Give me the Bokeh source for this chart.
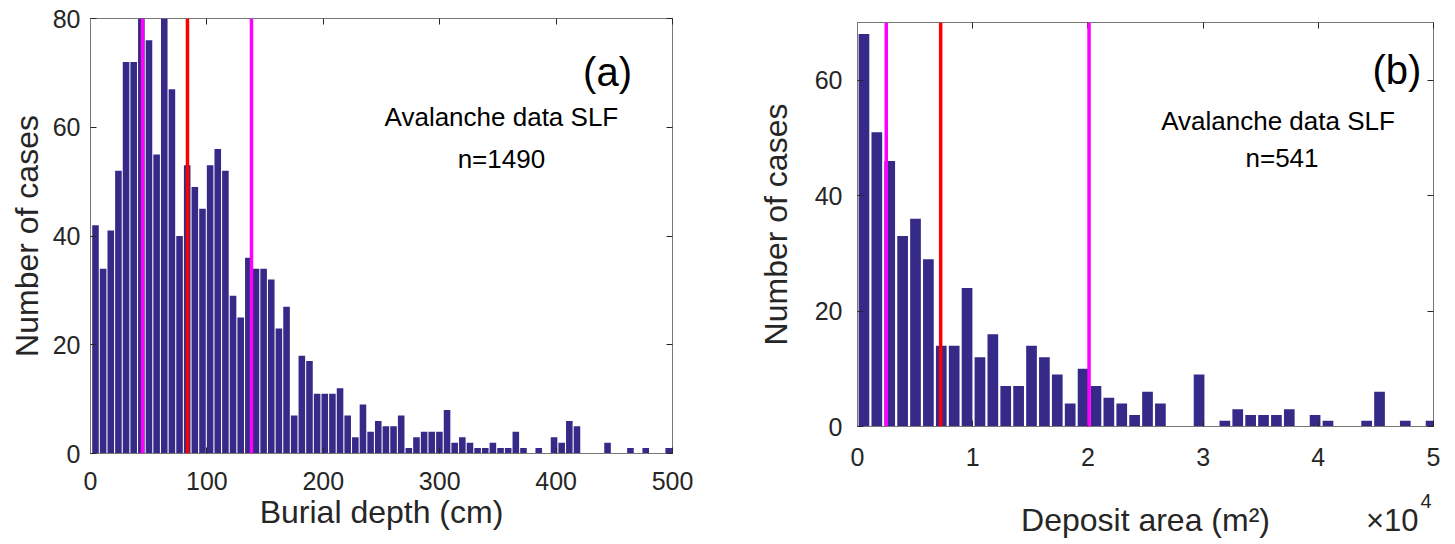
import numpy as np
from bokeh.plotting import figure
from bokeh.layouts import row
from bokeh.models import Span, Label, FixedTicker, LinearAxis, Range1d, Title
from bokeh.embed import file_html
from bokeh.resources import INLINE

# ---------------- data ----------------
# (a) burial depth histogram, 76 bins between min and max depth (cm)
depth_min, depth_max = 1.0, 500.0
depth_counts = [42, 34, 41, 52, 72, 72, 97, 76, 55, 97,
                67, 40, 53, 49, 45, 53, 56, 52, 29, 25,
                36, 34, 34, 32, 23, 27, 7, 18, 17, 11,
                11, 11, 12, 7, 3, 9, 4, 6, 5, 5,
                7, 1, 3, 4, 4, 4, 8, 2, 3, 2,
                1, 1, 2, 1, 1, 4, 1, 0, 1, 0,
                3, 2, 6, 5, 0, 0, 0, 2, 0, 0,
                1, 0, 1, 0, 0, 1]
depth_lines_magenta = [44.7, 138.3]
depth_lines_red = [83.3]
depth_xticks = [0, 100, 200, 300, 400, 500]
depth_yticks = [0, 20, 40, 60, 80]

# (b) deposit area histogram, 45 bins (units of 10^4 m^2)
area_min, area_max = 0.0, 5.035
area_counts = [68, 51, 46, 33, 36, 29, 14, 14, 24, 12,
               16, 7, 7, 14, 12, 9, 4, 10, 7, 5,
               4, 2, 6, 4, 0, 0, 9, 0, 1, 3,
               2, 2, 2, 3, 0, 2, 1, 0, 0, 1,
               6, 0, 1, 0, 1]
area_lines_magenta = [0.250, 2.010]
area_lines_red = [0.722]
area_xticks = [0, 1, 2, 3, 4, 5]
area_yticks = [0, 20, 40, 60]

# ---------------- style ----------------
FONT = "Liberation Sans"
TXT = "#262626"
AX = "#777777"
BAR = "#352a87"


def bins(lo, hi, n):
    edges = np.linspace(lo, hi, n + 1)
    return (edges[:-1] + edges[1:]) / 2.0, edges[1] - edges[0]


def style(p, xticks, yticks, ytick_so, ylab_so, xtick_so, xlab_so):
    p.xgrid.visible = False
    p.ygrid.visible = False
    p.outline_line_color = AX
    p.outline_line_width = 1
    p.background_fill_color = "white"
    p.border_fill_color = "white"
    for ax in (p.xaxis[0], p.yaxis[0]):
        ax.axis_line_color = AX
        ax.major_tick_line_color = TXT
        ax.major_tick_in = 6
        ax.major_tick_out = 0
        ax.minor_tick_line_color = None
        ax.major_label_text_font = FONT
        ax.major_label_text_font_size = "25px"
        ax.major_label_text_color = TXT
        ax.axis_label_text_font = FONT
        ax.axis_label_text_font_size = "32px"
        ax.axis_label_text_font_style = "normal"
        ax.axis_label_text_color = TXT
    p.xaxis[0].ticker = FixedTicker(ticks=xticks)
    p.yaxis[0].ticker = FixedTicker(ticks=yticks)
    p.xaxis[0].major_label_standoff = xtick_so
    p.xaxis[0].axis_label_standoff = xlab_so
    p.yaxis[0].major_label_standoff = ytick_so
    p.yaxis[0].axis_label_standoff = ylab_so
    # mirrored ticks on top and right (MATLAB box)
    top = LinearAxis(ticker=FixedTicker(ticks=xticks))
    right = LinearAxis(ticker=FixedTicker(ticks=yticks))
    for ax in (top, right):
        ax.axis_line_color = None
        ax.major_tick_line_color = TXT
        ax.major_tick_in = 6
        ax.major_tick_out = 0
        ax.minor_tick_line_color = None
        ax.major_label_text_color = None
        ax.major_label_text_font_size = "1px"
        ax.major_label_standoff = 0
    p.add_layout(top, "above")
    p.add_layout(right, "right")


def text(p, s, x, y, size, align="center", color="black"):
    p.add_layout(Label(x=x, y=y, text=s, text_font=FONT, text_font_size=size,
                       text_color=color, text_align=align,
                       text_baseline="alphabetic"))


# ---------------- panel (a) ----------------
dc, dw = bins(depth_min, depth_max, len(depth_counts))
p1 = figure(width=710, height=544, x_range=Range1d(0, 500), y_range=Range1d(0, 80),
            output_backend="svg", toolbar_location=None, frame_align=False,
            min_border_left=90, min_border_right=38, min_border_top=18,
            min_border_bottom=91)
p1.vbar(x=dc, width=dw * 0.86, top=depth_counts, bottom=0,
        fill_color=BAR, line_color=None)
for v in depth_lines_magenta:
    p1.add_layout(Span(location=v, dimension="height", line_color="#ff00ff", line_width=3.5))
for v in depth_lines_red:
    p1.add_layout(Span(location=v, dimension="height", line_color="#ff0000", line_width=3.5))
p1.xaxis.axis_label = "Burial depth (cm)"
p1.yaxis.axis_label = "Number of cases"
style(p1, depth_xticks, depth_yticks, 10, 5, 18, 1)
text(p1, "(a)", 444.2, 70.1, "40px")
text(p1, "Avalanche data SLF", 353.0, 61.8, "26px")
text(p1, "n=1490", 353.0, 54.1, "26px")

# ---------------- panel (b) ----------------
ac, aw = bins(area_min, area_max, len(area_counts))
p2 = figure(width=743, height=544, x_range=Range1d(0, 5), y_range=Range1d(0, 70),
            output_backend="svg", toolbar_location=None, frame_align=False,
            min_border_left=147, min_border_right=20, min_border_top=22,
            min_border_bottom=118)
p2.vbar(x=ac, width=aw * 0.83, top=area_counts, bottom=0,
        fill_color=BAR, line_color=None)
for v in area_lines_magenta:
    p2.add_layout(Span(location=v, dimension="height", line_color="#ff00ff", line_width=3.5))
for v in area_lines_red:
    p2.add_layout(Span(location=v, dimension="height", line_color="#ff0000", line_width=3.5))
p2.xaxis.axis_label = "Deposit area (m²)"
p2.yaxis.axis_label = "Number of cases"
style(p2, area_xticks, area_yticks, 15, 18, 21, 33)
# exponent note of the x axis ("×10" with a raised "4"), right-aligned under the frame
p2.add_layout(Title(text="×10", align="right", vertical_align="top", text_font=FONT,
                    text_font_size="31px", text_font_style="normal", text_color=TXT,
                    standoff=-76, offset=15), "below")
p2.add_layout(Title(text="4", align="right", vertical_align="top", text_font=FONT,
                    text_font_size="20px", text_font_style="normal", text_color=TXT,
                    standoff=-94, offset=2), "below")
text(p2, "(b)", 4.682, 61.8, "40px")
text(p2, "Avalanche data SLF", 3.650, 52.9, "26px")
text(p2, "n=541", 3.685, 46.5, "26px")

layout = row(p1, p2)
open("out.html", "w").write(file_html(layout, INLINE))
